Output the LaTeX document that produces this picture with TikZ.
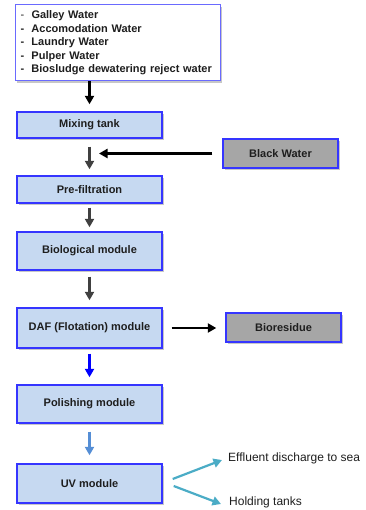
\documentclass[tikz,border=0pt]{standalone}
\usepackage{fontspec}
\setmainfont{Liberation Sans}
\usetikzlibrary{arrows.meta,shadows}

\definecolor{boxfill}{HTML}{C6D9F1}
\definecolor{boxline}{HTML}{3535FF}
\definecolor{srcline}{HTML}{6A6AFF}
\definecolor{greyfill}{HTML}{A6A6A6}
\definecolor{txt}{HTML}{1E1E1E}
\definecolor{arrgray}{HTML}{404040}
\definecolor{arrblue}{HTML}{0000FF}
\definecolor{arrsky}{HTML}{558ED5}
\definecolor{arrteal}{HTML}{4BACC6}

\begin{document}
\begin{tikzpicture}[x=1pt,y=-1pt,
  softshadow/.style={drop shadow={shadow xshift=2pt, shadow yshift=-2pt, opacity=0.22, fill=black}},
  stage/.style={rectangle, draw=boxline, line width=1.4pt, fill=boxfill,
    minimum width=145pt, inner sep=0pt, text=txt,
    font=\bfseries\fontsize{11}{13}\selectfont, softshadow},
  sidebox/.style={stage, fill=greyfill, minimum width=115pt, minimum height=29pt},
  srcbox/.style={rectangle, draw=srcline, line width=1pt, fill=white,
    minimum width=205pt, minimum height=76pt, text width=194pt,
    inner xsep=5pt, inner ysep=0pt, align=left, text=txt,
    font=\fontsize{11}{13.5}\selectfont, softshadow},
  outlabel/.style={anchor=west, inner sep=0pt, text=txt, font=\fontsize{12}{14}\selectfont},
  flow/.style={line width=2.2pt, -{Triangle[width=9pt,length=8.5pt]}},
]
\useasboundingbox (0,0) rectangle (365,510);

% incoming streams
\node[srcbox] (src) at (117.5,43) {%
  \makebox[11pt][l]{-}\textbf{Galley Water}\\
  \makebox[11pt][l]{\textbf{-}}\textbf{Accomodation Water}\\
  \makebox[11pt][l]{\textbf{-}}\textbf{Laundry Water}\\
  \makebox[11pt][l]{\textbf{-}}\textbf{Pulper Water}\\
  \makebox[11pt][l]{\textbf{-}}\textbf{Biosludge dewatering reject water}};

% main treatment line
\node[stage, minimum height=26pt] (mix) at (89.5,125)   {Mixing tank};
\node[stage, minimum height=27pt] (pre) at (89.5,189.5) {Pre-filtration};
\node[stage, minimum height=38pt] (bio) at (89.5,251)   {Biological module};
\node[stage, minimum height=40pt] (daf) at (89.5,328)   {DAF (Flotation) module};
\node[stage, minimum height=38pt] (pol) at (89.5,404)   {Polishing module};
\node[stage, minimum height=39pt] (uv)  at (89.5,483.5) {UV module};

% side streams
\node[sidebox] (black)  at (280.5,153.5) {Black Water};
\node[sidebox] (biores) at (283.5,327.5) {Bioresidue};

% outlets
\node[outlabel] (eff)  at (228,458) {Effluent discharge to sea};
\node[outlabel] (hold) at (229,502) {Holding tanks};

\coordinate (bwin) at (99,153.5);

% connectors
\draw[flow, draw=black] (src.south -| mix.center) -- ([yshift=7pt]mix.north);
\draw[flow, draw=arrgray] ([yshift=-8pt]mix.south) -- ([yshift=6pt]pre.north);
\draw[flow, draw=black] ([xshift=-10pt]black.west) -- (bwin);
\draw[flow, draw=arrgray] ([yshift=-4pt]pre.south) -- ([yshift=4pt]bio.north);
\draw[flow, draw=arrgray] ([yshift=-6pt]bio.south) -- ([yshift=7pt]daf.north);
\draw[flow, draw=black] ([xshift=9pt]daf.east) -- ([xshift=-9pt]biores.west |- daf.east);
\draw[flow, draw=arrblue] ([yshift=-5pt]daf.south) -- ([yshift=7pt]pol.north);
\draw[flow, draw=arrsky] ([yshift=-8pt]pol.south) -- ([yshift=8pt]uv.north);
\draw[flow, draw=arrteal] ([shift={(10,-4.5)}]uv.east) -- ([shift={(-6,2)}]eff.west);
\draw[flow, draw=arrteal] ([shift={(11,2.5)}]uv.east) -- ([shift={(-8,2)}]hold.west);
\end{tikzpicture}
\end{document}
